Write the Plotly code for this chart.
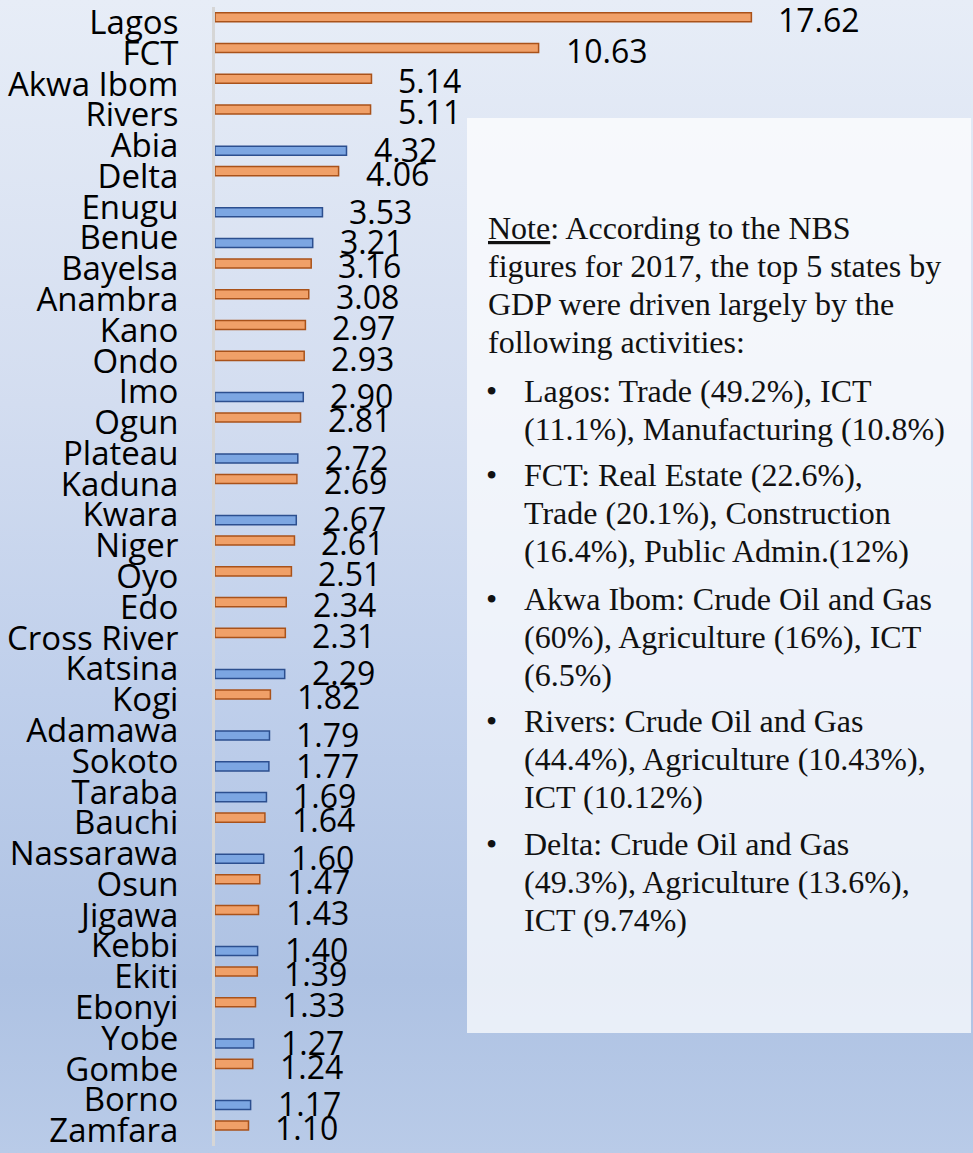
import base64
import plotly.graph_objects as go

# ---------------- data ----------------
states = ["Lagos", "FCT", "Akwa Ibom", "Rivers", "Abia", "Delta", "Enugu", "Benue",
          "Bayelsa", "Anambra", "Kano", "Ondo", "Imo", "Ogun", "Plateau", "Kaduna",
          "Kwara", "Niger", "Oyo", "Edo", "Cross River", "Katsina", "Kogi", "Adamawa",
          "Sokoto", "Taraba", "Bauchi", "Nassarawa", "Osun", "Jigawa", "Kebbi", "Ekiti",
          "Ebonyi", "Yobe", "Gombe", "Borno", "Zamfara"]
gdp_share = [17.62, 10.63, 5.14, 5.11, 4.32, 4.06, 3.53, 3.21, 3.16, 3.08, 2.97, 2.93,
             2.90, 2.81, 2.72, 2.69, 2.67, 2.61, 2.51, 2.34, 2.31, 2.29, 1.82, 1.79,
             1.77, 1.69, 1.64, 1.60, 1.47, 1.43, 1.40, 1.39, 1.33, 1.27, 1.24, 1.17, 1.10]
blue_states = ["Abia", "Enugu", "Benue", "Imo", "Plateau", "Kwara", "Katsina", "Adamawa",
               "Sokoto", "Taraba", "Nassarawa", "Kebbi", "Yobe", "Borno"]

note_lines = [("<u>Note</u>: According to the NBS", 239),
              ("figures for 2017, the top 5 states by", 277),
              ("GDP were driven largely by the", 315),
              ("following activities:", 353)]
bullet_paras = [
    [("Lagos: Trade (49.2%), ICT", 402), ("(11.1%), Manufacturing (10.8%)", 440)],
    [("FCT: Real Estate (22.6%),", 486), ("Trade (20.1%), Construction", 524),
     ("(16.4%), Public Admin.(12%)", 562)],
    [("Akwa Ibom: Crude Oil and Gas", 610), ("(60%), Agriculture (16%), ICT", 648),
     ("(6.5%)", 686)],
    [("Rivers: Crude Oil and Gas", 732), ("(44.4%), Agriculture (10.43%),", 770),
     ("ICT (10.12%)", 808)],
    [("Delta: Crude Oil and Gas", 855), ("(49.3%), Agriculture (13.6%),", 893),
     ("ICT (9.74%)", 931)],
]

# ---------------- layout helpers ----------------
W, H = 973, 1153
ML, MR, MT, MB = 215, 0, 7, 7
PW, PH = W - ML - MR, H - MT - MB


def px(x):
    return (x - ML) / PW


def py(y):
    return (H - MB - y) / PH


orange_vals = [v if s not in blue_states else None for s, v in zip(states, gdp_share)]
blue_vals = [v if s in blue_states else None for s, v in zip(states, gdp_share)]

fig = go.Figure()
fig.add_trace(go.Bar(y=states, x=orange_vals, orientation="h", name="orange",
                     marker=dict(color="#f0a068", line=dict(color="#a9521a", width=1.5)),
                     hoverinfo="x+y"))
fig.add_trace(go.Bar(y=states, x=blue_vals, orientation="h", name="blue",
                     marker=dict(color="#7ca6e2", line=dict(color="#2c4f8f", width=1.5)),
                     hoverinfo="x+y"))

annotations = []
for s, v in zip(states, gdp_share):
    is_blue = s in blue_states
    annotations.append(dict(
        x=v, y=s, xref="x", yref="y", text=f"{v:.2f}", showarrow=False,
        xanchor="left", yanchor="middle", xshift=25, yshift=(-4 if is_blue else 3),
        font=dict(family="Open Sans", size=32, color="#000000")))

SERIF = "Liberation Serif"
FS = 32
for t, b in note_lines:
    annotations.append(dict(x=px(486), y=py(b - 0.34 * FS), xref="paper", yref="paper",
                            text=t, showarrow=False, xanchor="left", yanchor="middle",
                            font=dict(family=SERIF, size=FS, color="#111111")))
for para in bullet_paras:
    first_b = para[0][1]
    annotations.append(dict(x=px(484), y=py(first_b - 0.34 * FS), xref="paper", yref="paper",
                            text="•", showarrow=False, xanchor="left", yanchor="middle",
                            font=dict(family=SERIF, size=FS, color="#111111")))
    for t, b in para:
        annotations.append(dict(x=px(522), y=py(b - 0.34 * FS), xref="paper", yref="paper",
                                text=t, showarrow=False, xanchor="left", yanchor="middle",
                                font=dict(family=SERIF, size=FS, color="#111111")))

svg = (
    "<svg xmlns='http://www.w3.org/2000/svg' width='973' height='1153' preserveAspectRatio='none'>"
    "<defs><linearGradient id='g' x1='0' y1='0' x2='0' y2='1'>"
    "<stop offset='0' stop-color='#e7edf7'/>"
    "<stop offset='0.35' stop-color='#d3ddf0'/>"
    "<stop offset='0.6' stop-color='#bfcfeb'/>"
    "<stop offset='0.85' stop-color='#aec2e3'/>"
    "<stop offset='1' stop-color='#b9cbe8'/>"
    "</linearGradient></defs>"
    "<rect width='973' height='1153' fill='url(#g)'/></svg>"
)
bg_src = "data:image/svg+xml;base64," + base64.b64encode(svg.encode()).decode()

fig.update_layout(
    width=W, height=H,
    margin=dict(l=ML, r=MR, t=MT, b=MB, pad=0),
    paper_bgcolor="#c8d5ee",
    plot_bgcolor="rgba(0,0,0,0)",
    barmode="group", bargap=0.33, bargroupgap=0.12,
    showlegend=False,
    annotations=annotations,
    images=[dict(source=bg_src, xref="paper", yref="paper",
                 x=-ML / PW, y=1 + MT / PH, sizex=W / PW, sizey=H / PH,
                 xanchor="left", yanchor="top", sizing="stretch", layer="below")],
    shapes=[dict(type="rect", xref="paper", yref="paper",
                 x0=px(467), x1=px(971), y0=py(1033), y1=py(118),
                 fillcolor="rgba(255,255,255,0.72)", line=dict(width=0), layer="above")],
    xaxis=dict(range=[0, 24.9], visible=False, fixedrange=True),
    yaxis=dict(range=[len(states) - 0.5, -0.5], autorange=False,
               showline=True, linecolor="#d6d6d6", linewidth=3,
               showgrid=False, zeroline=False, ticks="", ticklabelstandoff=27,
               tickmode="array", tickvals=states, ticktext=states,
               tickfont=dict(family="Open Sans", size=33, color="#000000"),
               fixedrange=True),
)

fig.write_html("out.html", config={"displayModeBar": False},
               post_script="document.body.style.margin='0';document.body.style.padding='0';")
